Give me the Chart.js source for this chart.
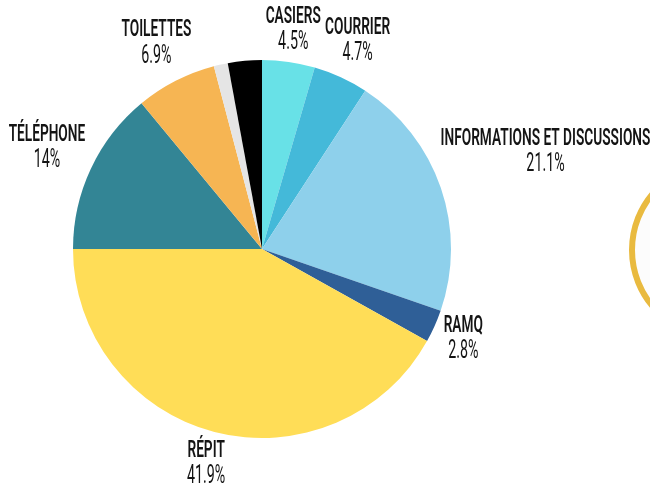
<!DOCTYPE html>
<html>
<head>
<meta charset="utf-8">
<script src="https://cdn.jsdelivr.net/npm/chart.js@4"></script>
<style>
  html, body { margin: 0; padding: 0; background: #fff; }
  canvas { display: block; }
</style>
</head>
<body>
<canvas id="chart" width="650" height="489"></canvas>
<script>
// categories, clockwise from 12 o'clock (the last two slices carry no label)
const categories = ['CASIERS', 'COURRIER', 'INFORMATIONS ET DISCUSSIONS', 'RAMQ', 'RÉPIT', 'TÉLÉPHONE', 'TOILETTES', '', '']
// share of each category, in percent
const shares = [4.5, 4.7, 21.1, 2.8, 41.9, 14, 6.9, 1.2, 2.9]
const colors = ['#68E1E7', '#44B9D9', '#8ED0EB', '#2F5F97', '#FFDD57', '#338595', '#F6B553', '#E5E5E5', '#000000']

const SQUEEZE = 0.57 // condensed look for the labels
const LINE_H = 26

const outerLabels = {
  id: 'outerLabels',
  afterDatasetsDraw(chart) {
    const { ctx } = chart
    const meta = chart.getDatasetMeta(0)
    ctx.save()
    ctx.fillStyle = '#141414'
    ctx.textAlign = 'center'
    ctx.textBaseline = 'middle'
    meta.data.forEach((arc, i) => {
      if (!categories[i]) return
      const lines = [
        { text: categories[i], font: '600 24px Roboto' },
        { text: shares[i] + '%', font: '400 25px Roboto' },
      ]
      const w = Math.max(...lines.map((l) => {
        ctx.font = l.font
        return ctx.measureText(l.text).width
      })) * SQUEEZE
      const h = LINE_H * lines.length
      const mid = (arc.startAngle + arc.endAngle) / 2
      const cos = Math.cos(mid)
      const sin = Math.sin(mid)
      // push the label box out until its nearest edge clears the pie
      const d = arc.outerRadius + 3 + (w / 2) * Math.abs(cos) + (h / 2) * Math.abs(sin)
      const cx = arc.x + d * cos
      const cy = arc.y + d * sin
      lines.forEach((l, j) => {
        ctx.save()
        ctx.font = l.font
        ctx.translate(cx, cy + (j - (lines.length - 1) / 2) * LINE_H)
        ctx.scale(SQUEEZE, 1)
        ctx.fillText(l.text, 0, 0)
        ctx.restore()
      })
    })
    ctx.restore()
  },
}

// yellow ring peeking in at the right edge of the original slide
const sideRing = {
  id: 'sideRing',
  beforeDraw(chart) {
    const { ctx } = chart
    ctx.save()
    ctx.beginPath()
    ctx.arc(chart.width + 69, 250, 87, 0, Math.PI * 2)
    ctx.fillStyle = '#fcfcfc'
    ctx.fill()
    ctx.lineWidth = 6
    ctx.strokeStyle = '#E9BA3F'
    ctx.stroke()
    ctx.restore()
  },
}

new Chart(document.getElementById('chart'), {
  type: 'pie',
  data: {
    labels: categories,
    datasets: [
      {
        data: shares,
        backgroundColor: colors,
        borderWidth: 0,
        hoverOffset: 0,
      },
    ],
  },
  options: {
    responsive: false,
    animation: false,
    layout: {
      padding: { top: 60, bottom: 51, left: 73, right: 199 },
    },
    plugins: {
      legend: { display: false },
      tooltip: { enabled: false },
    },
  },
  plugins: [sideRing, outerLabels],
})
</script>
</body>
</html>
